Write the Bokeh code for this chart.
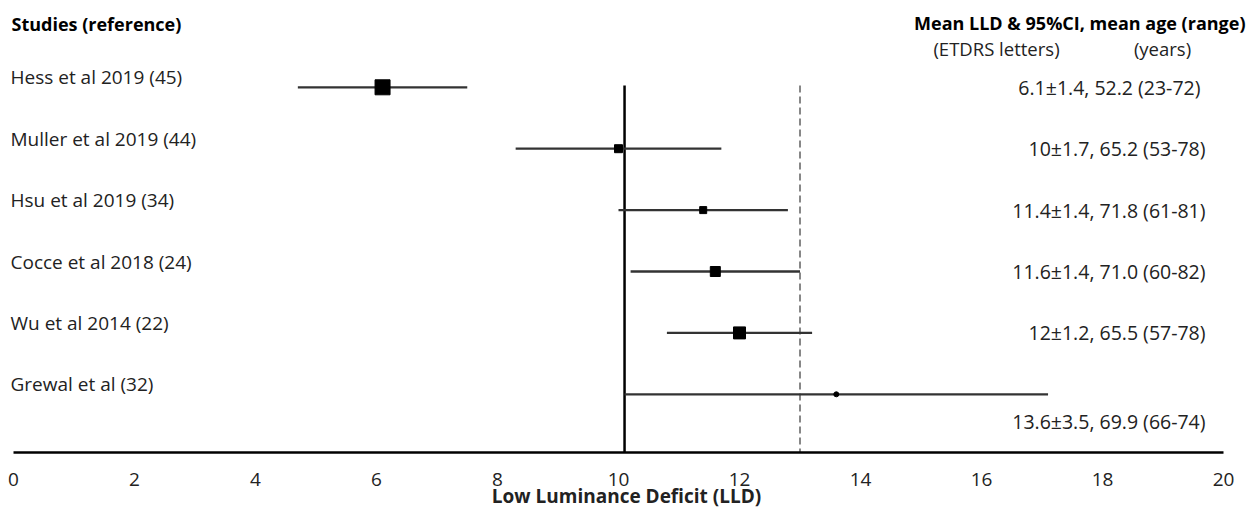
from bokeh.plotting import figure
from bokeh.models import Range1d, FixedTicker, ColumnDataSource
from bokeh.core.properties import value
from bokeh.embed import file_html
from bokeh.resources import INLINE

# ---------------- data ----------------
studies = ["Hess et al 2019 (45)", "Muller et al 2019 (44)", "Hsu et al 2019 (34)",
           "Cocce et al 2018 (24)", "Wu et al 2014 (22)", "Grewal et al (32)"]
mean_lld = [6.1, 10, 11.4, 11.6, 12, 13.6]
ci_lld = [1.4, 1.7, 1.4, 1.4, 1.2, 3.5]
mean_age = [52.2, 65.2, 71.8, 71.0, 65.5, 69.9]
age_min = [23, 53, 61, 60, 57, 66]
age_max = [72, 78, 81, 82, 78, 74]
x_ticks = [0, 2, 4, 6, 8, 10, 12, 14, 16, 18, 20]
solid_ref = 10.1
dashed_ref = 13

# ---------------- styles ----------------
marker_sizes = [15, 8, 7, 10, 12, 5]
marker_kinds = ["square", "square", "square", "square", "square", "circle"]
right_offsets = [0, 0, 0, 0, 0, 27]
FONT = value("Open Sans")
TXT = "#222222"

rows = list(range(len(studies)))
lower = [m - c for m, c in zip(mean_lld, ci_lld)]
upper = [m + c for m, c in zip(mean_lld, ci_lld)]
right_labels = [f"{m:g}\u00b1{c}, {a:.1f} ({lo}-{hi})"
                for m, c, a, lo, hi in zip(mean_lld, ci_lld, mean_age, age_min, age_max)]
right_labels[0] = right_labels[0].replace(", ", ",  ")

src = ColumnDataSource(dict(row=rows, study=studies, mean=mean_lld, lo=lower, hi=upper,
                            size=marker_sizes, marker=marker_kinds, rlab=right_labels,
                            roff=right_offsets))

W, H = 1252, 511
PXU = 60.5          # pixels per LLD unit
X0 = -13 / PXU
X1 = X0 + W / PXU
ROW = 61.4          # pixels per row
FRAME_H = 452
V_TOP = -86.8 / ROW
V_BOT = V_TOP + FRAME_H / ROW

def vy(px):
    return V_TOP + px / ROW

def vx(px):
    return X0 + px / PXU

p = figure(width=W, height=H, output_backend="svg", toolbar_location=None,
           x_range=Range1d(X0, X1), y_range=Range1d(V_BOT, V_TOP),
           y_axis_location=None, min_border_left=0, min_border_right=0,
           min_border_top=0, min_border_bottom=0)
p.outline_line_color = None
p.xgrid.visible = False
p.ygrid.visible = False
p.background_fill_color = "white"

ax = p.xaxis[0]
ax.ticker = FixedTicker(ticks=x_ticks)
ax.bounds = (x_ticks[0], x_ticks[-1])
ax.axis_line_width = 2.5
ax.axis_line_color = "black"
ax.major_tick_line_color = None
ax.minor_tick_line_color = None
ax.major_tick_out = 0
ax.major_tick_in = 0
ax.minor_tick_out = 0
ax.minor_tick_in = 0
ax.major_label_text_font = "Open Sans"
ax.major_label_text_font_size = "19px"
ax.major_label_text_color = TXT
ax.major_label_standoff = 20
ax.axis_label = "Low Luminance Deficit (LLD)"
ax.axis_label_text_font = "Open Sans"
ax.axis_label_text_font_style = "bold"
ax.axis_label_text_font_size = "19px"
ax.axis_label_text_color = TXT
ax.axis_label_standoff = -6

line_top = vy(85)
# reference lines
p.segment(x0=[solid_ref], y0=[line_top], x1=[solid_ref], y1=[V_BOT],
          line_color="black", line_width=2.5)
p.segment(x0=[dashed_ref], y0=[line_top], x1=[dashed_ref], y1=[V_BOT],
          line_color="#7a7a7a", line_width=1.8, line_dash="7 4")

# CI bars and point estimates
p.segment(x0="lo", y0="row", x1="hi", y1="row", source=src,
          line_color="#333333", line_width=2.3)
p.scatter(x="mean", y="row", size="size", marker="marker", source=src,
          fill_color="black", line_color="black")

# study labels (left)
p.text(x=vx(10), y="row", text="study", source=src, text_font=FONT,
       text_font_size=value("19px"), text_color=TXT, text_align="left",
       text_baseline="middle", y_offset=-10)

# value labels (right)
p.text(x=vx(1205), y="row", text="rlab", source=src, text_font=FONT,
       text_font_size=value("19.5px"), text_color=TXT, text_align="right",
       text_baseline="middle", y_offset="roff")

# headers
p.text(x=[vx(11)], y=[vy(23)], text=["Studies (reference)"],
       text_font=FONT, text_font_size=value("18px"), text_font_style="bold",
       text_color="black", text_align="left", text_baseline="middle")
p.text(x=[vx(1245)], y=[vy(22)], text=["Mean LLD & 95%CI, mean age (range)"],
       text_font=FONT, text_font_size=value("18px"), text_font_style="bold",
       text_color="black", text_align="right", text_baseline="middle")
p.text(x=[vx(996), vx(1162)], y=[vy(48)] * 2,
       text=["(ETDRS letters)", "(years)"],
       text_font=FONT, text_font_size=value("18.5px"),
       text_color=TXT, text_align="center", text_baseline="middle")

open("out.html", "w").write(file_html(p, INLINE))
